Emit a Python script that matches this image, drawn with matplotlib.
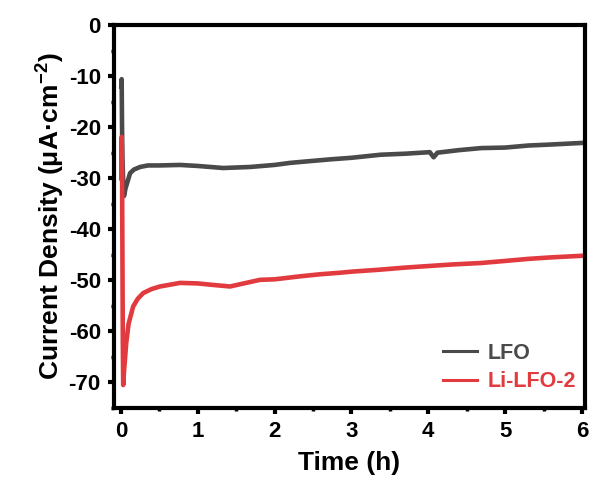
import matplotlib.pyplot as plt
from matplotlib.ticker import MultipleLocator

plt.rcParams['font.family'] = ['Liberation Sans', 'DejaVu Sans']
plt.rcParams['font.weight'] = 'bold'
plt.rcParams['axes.unicode_minus'] = False
plt.rcParams['mathtext.fontset'] = 'custom'
plt.rcParams['mathtext.rm'] = 'Liberation Sans:bold'
plt.rcParams['mathtext.bf'] = 'Liberation Sans:bold'
plt.rcParams['mathtext.default'] = 'bf'

# LFO
t_lfo = [0.005, 0.01, 0.015, 0.02, 0.03, 0.04, 0.06, 0.09, 0.12, 0.17, 0.25, 0.35,
         0.5, 0.77, 1.0, 1.33, 1.68, 2.0, 2.2, 2.5, 2.73, 3.0, 3.38, 3.7, 4.02,
         4.07, 4.12, 4.4, 4.69, 5.0, 5.3, 5.6, 5.99]
j_lfo = [-12.0, -10.6, -20.0, -25.8, -31.0, -33.5, -32.0, -30.5, -29.0, -28.3, -27.8, -27.5,
         -27.5, -27.4, -27.6, -28.0, -27.8, -27.4, -27.0, -26.6, -26.3, -26.0, -25.4, -25.2, -24.9,
         -25.9, -25.0, -24.5, -24.1, -24.0, -23.6, -23.4, -23.1]

# Li-LFO-2
t_li = [0.005, 0.01, 0.015, 0.02, 0.025, 0.03, 0.04, 0.07, 0.1, 0.16, 0.22, 0.29,
        0.4, 0.51, 0.77, 1.0, 1.2, 1.42, 1.6, 1.81, 2.0, 2.34, 2.6, 2.86, 3.0,
        3.38, 3.7, 4.0, 4.3, 4.69, 5.0, 5.3, 5.6, 5.99]
j_li = [-30.0, -21.9, -28.0, -45.0, -62.0, -70.5, -68.0, -62.2, -58.5, -55.1, -53.6, -52.5,
        -51.7, -51.2, -50.5, -50.6, -50.9, -51.2, -50.6, -49.9, -49.8, -49.2, -48.8, -48.5, -48.3,
        -47.9, -47.5, -47.2, -46.9, -46.6, -46.2, -45.8, -45.5, -45.2]

fig = plt.figure(figsize=(5.93, 4.82), dpi=100)
ax = fig.add_axes([0.1922, 0.1535, 0.7943, 0.7946])

ax.plot(t_lfo, j_lfo, color='#4a4a4a', linewidth=3.3, label='LFO')
ax.plot(t_li, j_li, color='#e23b3f', linewidth=3.3, label='Li-LFO-2')

ax.set_xlim(-0.09, 6.04)
ax.set_ylim(-75, 0)
ax.xaxis.set_major_locator(MultipleLocator(1))
ax.xaxis.set_minor_locator(MultipleLocator(0.5))
ax.yaxis.set_major_locator(MultipleLocator(10))
ax.yaxis.set_minor_locator(MultipleLocator(5))

for s in ax.spines.values():
    s.set_linewidth(3.0)
ax.tick_params(which='major', direction='out', length=4.5, width=3.0, labelsize=16, pad=5)
ax.tick_params(which='minor', direction='out', length=2.5, width=2.5)

ax.set_xlabel('Time (h)', fontsize=19, fontweight='bold', labelpad=6)
ax.set_ylabel(r'Current Density (μA·cm$^{-2}$)', fontsize=19, fontweight='bold', labelpad=1)

leg = ax.legend(loc='upper left', bbox_to_anchor=(0.698, 0.17), frameon=False,
                handlelength=1.6, handletextpad=0.5, labelspacing=0.35,
                borderpad=0, borderaxespad=0,
                prop={'size': 15.5, 'weight': 'bold'}, labelcolor='linecolor')
for h in leg.get_lines():
    h.set_linewidth(2.2)

fig.savefig('out.png', dpi=100)
